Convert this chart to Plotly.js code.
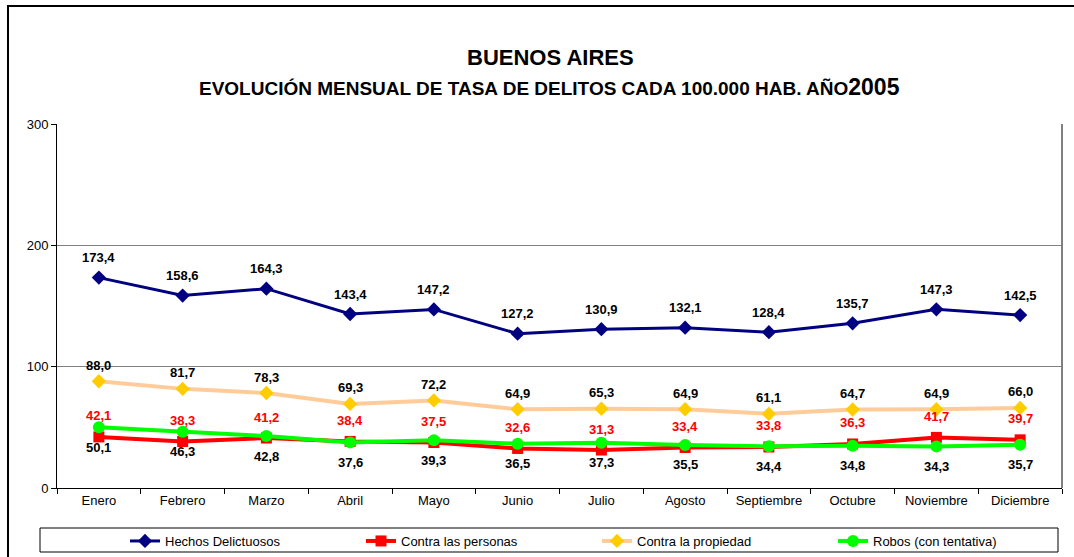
<!DOCTYPE html>
<html>
<head>
<meta charset="utf-8">
<script src="https://cdn.plot.ly/plotly-3.0.1.min.js"></script>
<style>html,body{margin:0;padding:0;background:#fff;}#chart{width:1074px;height:557px;}</style>
</head>
<body>
<div id="chart"></div>
<script>
const months = ["Enero","Febrero","Marzo","Abril","Mayo","Junio","Julio","Agosto","Septiembre","Octubre","Noviembre","Diciembre"];
const hechos = [173.4,158.6,164.3,143.4,147.2,127.2,130.9,132.1,128.4,135.7,147.3,142.5];
const personas = [42.1,38.3,41.2,38.4,37.5,32.6,31.3,33.4,33.8,36.3,41.7,39.7];
const propiedad = [88.0,81.7,78.3,69.3,72.2,64.9,65.3,64.9,61.1,64.7,64.9,66.0];
const robos = [50.1,46.3,42.8,37.6,39.3,36.5,37.3,35.5,34.4,34.8,34.3,35.7];
const seriesNames = ["Hechos Delictuosos","Contra las personas","Contra la propiedad","Robos (con tentativa)"];

const FONT = "Liberation Sans, Arial, sans-serif";
const fmt = v => v.toFixed(1).replace(".", ",");

const traces = [
  {x: months, y: hechos, name: seriesNames[0], mode: "lines+markers",
   line: {color: "#000080", width: 3}, marker: {symbol: "diamond", size: 11, color: "#000080"}},
  {x: months, y: personas, name: seriesNames[1], mode: "lines+markers",
   line: {color: "#FF0000", width: 4}, marker: {symbol: "square", size: 11, color: "#FF0000"}},
  {x: months, y: propiedad, name: seriesNames[2], mode: "lines+markers",
   line: {color: "#FFCC99", width: 4}, marker: {symbol: "diamond", size: 11, color: "#FFCC00"}},
  {x: months, y: robos, name: seriesNames[3], mode: "lines+markers",
   line: {color: "#00FF00", width: 4}, marker: {symbol: "circle", size: 12, color: "#00FF00"}}
];

const labelSpecs = [
  {data: hechos, color: "#000000", shift: 20},
  {data: personas, color: "#FF0000", shift: 21},
  {data: propiedad, color: "#000000", shift: 16},
  {data: robos, color: "#000000", shift: -20}
];

const W = 1005, H = 364;
const px = p => (p - 57) / W;
const py = p => (488 - p) / H;

const annotations = [];
labelSpecs.forEach(s => {
  s.data.forEach((v, i) => {
    annotations.push({x: months[i], y: v, xref: "x", yref: "y", text: fmt(v),
      showarrow: false, yshift: s.shift, font: {family: FONT, size: 13, color: s.color, weight: "bold"}});
  });
});
annotations.push({xref: "paper", yref: "paper", x: px(550), y: py(57), xanchor: "center", yanchor: "middle",
  text: "<b>BUENOS AIRES</b>", showarrow: false, font: {family: FONT, size: 22, color: "#000"}});
annotations.push({xref: "paper", yref: "paper", x: px(549), y: py(87), xanchor: "center", yanchor: "middle",
  text: "<b>EVOLUCIÓN MENSUAL DE TASA DE DELITOS CADA 100.000 HAB. AÑO<span style='font-size:23px'>2005</span></b>",
  showarrow: false, font: {family: FONT, size: 19, color: "#000"}});

const shapes = [
  {type: "rect", xref: "paper", yref: "paper", x0: px(8), x1: px(1090), y0: py(580), y1: py(6),
   line: {color: "#000", width: 2}, fillcolor: "rgba(0,0,0,0)", layer: "below"},
  {type: "rect", xref: "paper", yref: "paper", x0: px(40), x1: px(1058), y0: py(552), y1: py(528),
   line: {color: "#000", width: 1}, fillcolor: "rgba(0,0,0,0)"},
  {type: "line", xref: "paper", yref: "paper", x0: 1, x1: 1, y0: 0, y1: 1,
   line: {color: "#808080", width: 2}}
];

const layout = {
  width: 1074, height: 557,
  margin: {l: 57, r: 12, t: 124, b: 69, pad: 0, autoexpand: false},
  paper_bgcolor: "#fff", plot_bgcolor: "#fff",
  font: {family: FONT, size: 12, color: "#000"},
  showlegend: true,
  legend: {orientation: "h", x: px(125), xanchor: "left", y: py(526), yanchor: "top",
    entrywidth: 191, entrywidthmode: "pixels", itemwidth: 30,
    font: {family: FONT, size: 13, color: "#000"}, bgcolor: "rgba(0,0,0,0)", borderwidth: 0},
  xaxis: {type: "category", range: [-0.5, 11.5], autorange: false, showline: true, linecolor: "#000", linewidth: 1,
    ticks: "outside", ticklen: 5, tickcolor: "#000", tickson: "boundaries",
    showgrid: false, zeroline: false, tickfont: {family: FONT, size: 13, color: "#000"}},
  yaxis: {range: [0, 300], dtick: 100, showline: true, linecolor: "#000", linewidth: 1,
    ticks: "outside", ticklen: 5, tickcolor: "#000", showgrid: true, gridcolor: "#808080", gridwidth: 1,
    zeroline: false, tickfont: {family: FONT, size: 13, color: "#000"}},
  annotations: annotations,
  shapes: shapes
};

Plotly.newPlot("chart", traces, layout, {displayModeBar: false, staticPlot: true});
</script>
</body>
</html>
